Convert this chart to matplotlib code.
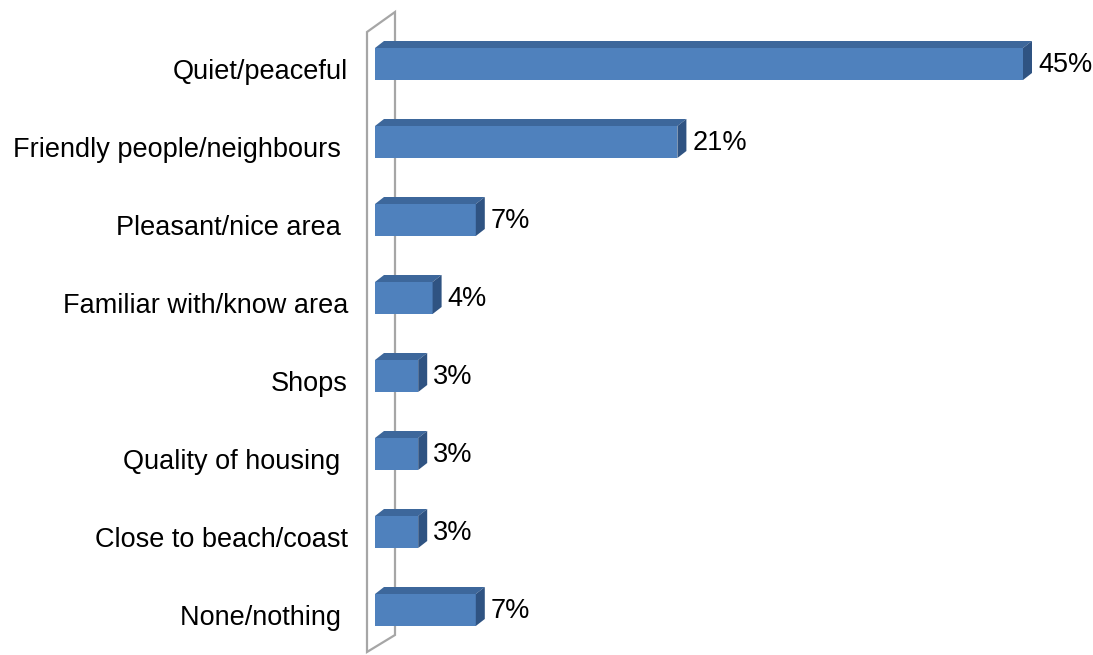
import matplotlib
matplotlib.use("Agg")
import matplotlib.pyplot as plt
from matplotlib.patches import Polygon

# Reasons people like living in the area (% of respondents)
categories = [
    "Quiet/peaceful",
    "Friendly people/neighbours ",
    "Pleasant/nice area ",
    "Familiar with/know area",
    "Shops",
    "Quality of housing ",
    "Close to beach/coast",
    "None/nothing ",
]
values = [45, 21, 7, 4, 3, 3, 3, 7]
value_labels = ["45%", "21%", "7%", "4%", "3%", "3%", "3%", "7%"]

W, H = 1093, 655
fig = plt.figure(figsize=(W / 100, H / 100), dpi=100)
fig.patch.set_facecolor("white")

# plot area in pixels: x 375..1023 maps to 0..45, rows 78 px apart
left_px, right_px = 375, 1023
top_px, bottom_px = 25, 649
ax = fig.add_axes([left_px / W, (H - bottom_px) / H,
                   (right_px - left_px) / W, (bottom_px - top_px) / H])
ax.set_xlim(0, 45)
ax.set_ylim(len(categories) - 0.5, -0.5)
ax.axis("off")

px_x = (right_px - left_px) / 45.0
px_y = (bottom_px - top_px) / len(categories)

font = ["Liberation Sans", "Arial", "DejaVu Sans"]
fs = 19.5

front = "#4F81BD"
top_c = "#3D679B"
side_c = "#2F5382"

# back wall drawn as a thin 3D panel
wx0 = (367 - left_px) / px_x
wx1 = (395 - left_px) / px_x
def py(p):
    return (p - top_px) / px_y - 0.5
wall = Polygon([(wx0, py(32)), (wx1, py(12)), (wx1, py(635)), (wx0, py(652))],
               closed=True, facecolor="white", edgecolor="#A6A6A6",
               linewidth=1.6, clip_on=False, zorder=1)
ax.add_patch(wall)

bar_h = 32 / px_y
dx = 9 / px_x
dy = 7 / px_y

for i, (v, lab, vl) in enumerate(zip(values, categories, value_labels)):
    y0 = i - bar_h / 2
    y1 = i + bar_h / 2
    ax.barh(i, v, height=bar_h, left=0, color=front, edgecolor="none", zorder=3)
    top = Polygon([(0, y0), (v, y0), (v + dx, y0 - dy), (dx, y0 - dy)],
                  closed=True, facecolor=top_c, edgecolor="none",
                  clip_on=False, zorder=3)
    side = Polygon([(v, y0), (v + dx, y0 - dy), (v + dx, y1 - dy), (v, y1)],
                   closed=True, facecolor=side_c, edgecolor="none",
                   clip_on=False, zorder=3)
    ax.add_patch(top)
    ax.add_patch(side)

    ax.text((348 - left_px) / px_x, i + 8 / px_y, lab, ha="right", va="center",
            fontsize=fs, family=font, color="black", clip_on=False)
    ax.text(v + 15 / px_x, i + 1 / px_y, vl, ha="left", va="center",
            fontsize=fs, family=font, color="black", clip_on=False)

fig.savefig("out.png", dpi=100, facecolor="white")
